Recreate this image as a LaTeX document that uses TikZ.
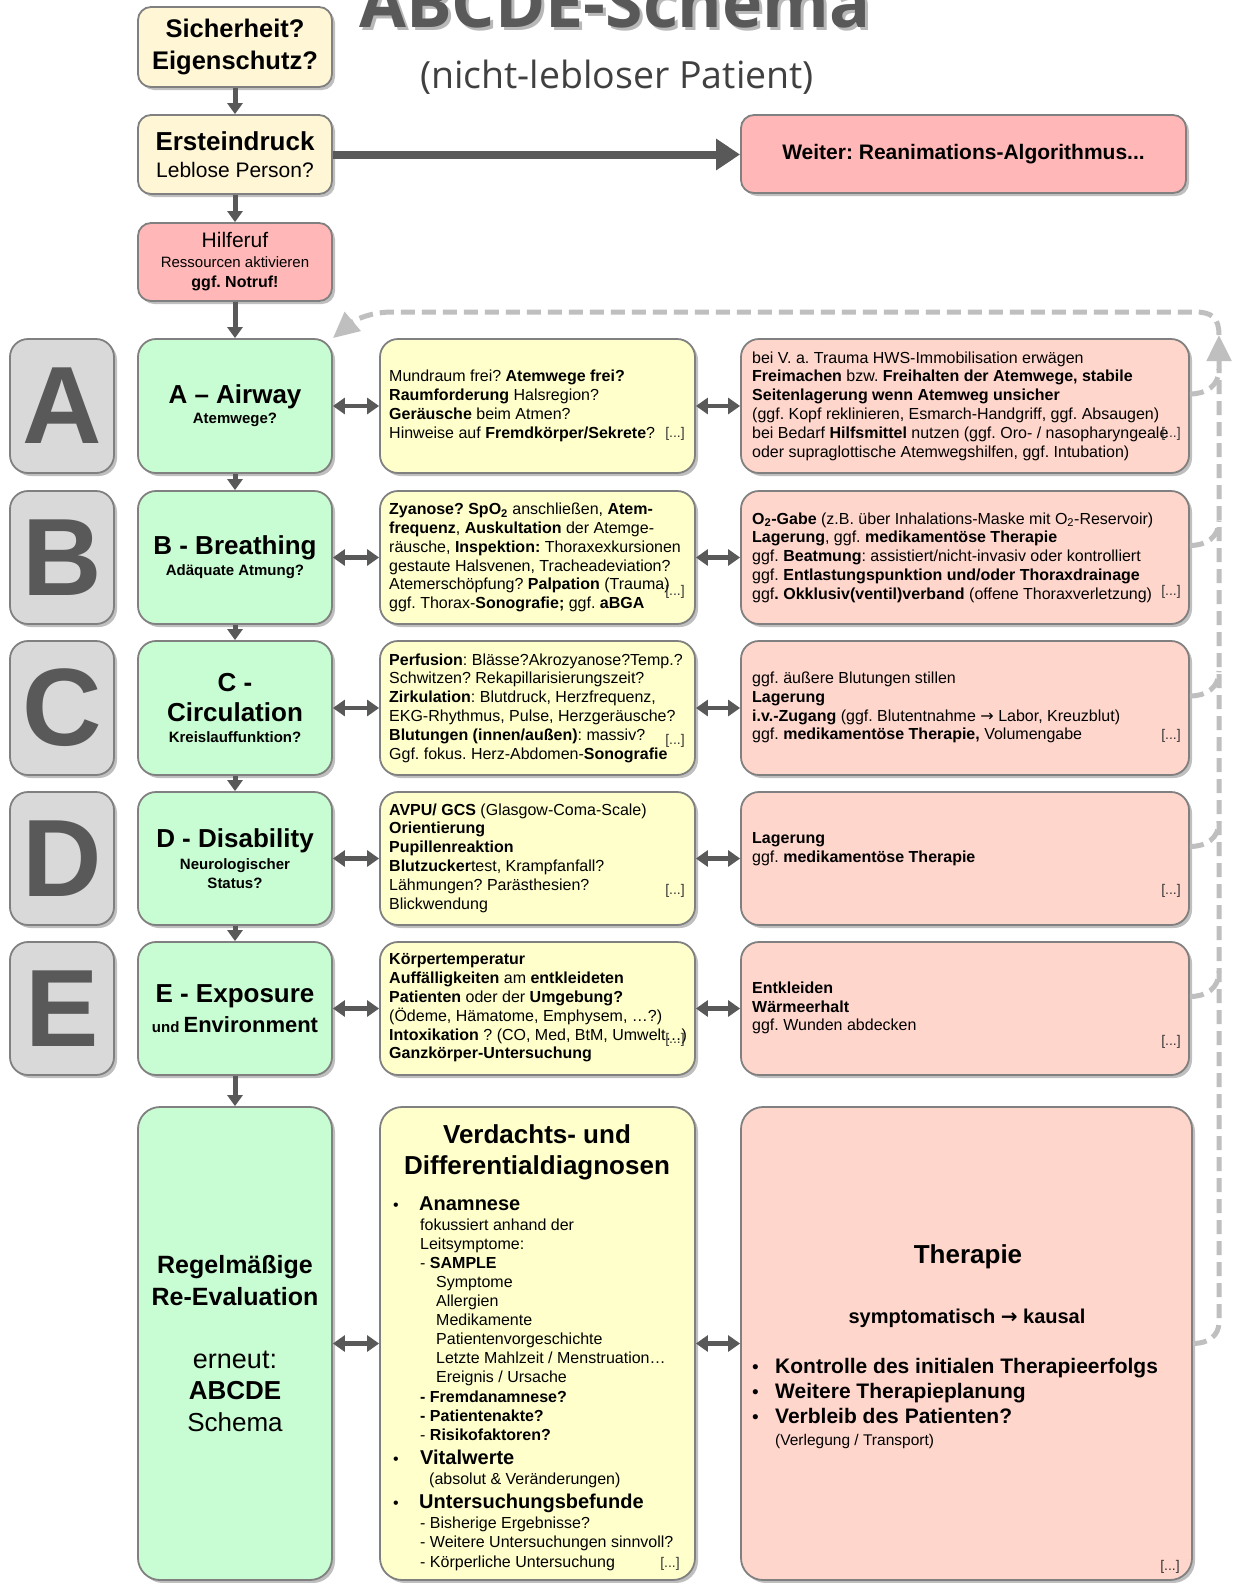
\documentclass[tikz,border=0pt]{standalone}
\usepackage{fontspec}
\setmainfont{Liberation Sans}
\newfontfamily\titlefont{Open Sans}
\newfontfamily\arrowfont{DejaVu Sans}
\usetikzlibrary{arrows.meta,shadows,calc}
\definecolor{mint}{RGB}{200,252,210}
\definecolor{paleyellow}{RGB}{255,255,204}
\definecolor{peach}{RGB}{255,214,204}
\definecolor{rosepink}{RGB}{255,183,183}
\definecolor{cream}{RGB}{255,246,213}
\definecolor{lettergray}{RGB}{217,217,217}
\definecolor{bordergray}{RGB}{128,128,128}
\definecolor{arrowgray}{RGB}{89,89,89}
\definecolor{dashgray}{RGB}{191,191,191}
\definecolor{titlegray}{RGB}{89,89,89}
\newcommand{\rarr}{{\arrowfont →}}
\frenchspacing
\begin{document}
\begin{tikzpicture}[x=1pt,y=-1pt,
  basebox/.style={draw=bordergray,line width=1.8pt,rounded corners=18pt,inner sep=0pt,align=center,
     drop shadow={shadow xshift=3pt,shadow yshift=-3pt,opacity=0.45,fill=black!55}},
  topbox/.style={basebox,rounded corners=13pt,minimum width=194pt},
  letterbox/.style={basebox,fill=lettergray,minimum width=104pt,minimum height=134pt,
     text=titlegray,font=\bfseries\fontsize{110}{110}\selectfont},
  greenbox/.style={basebox,fill=mint,minimum width=194pt,minimum height=134pt,
     font=\bfseries\fontsize{15}{20}\selectfont},
  yellowbox/.style={basebox,fill=paleyellow,minimum width=315pt,minimum height=134pt},
  redbox/.style={basebox,fill=peach,minimum width=448pt,minimum height=134pt},
  rowtext/.style={anchor=west,align=left,inner sep=0pt,font=\fontsize{16}{18.8}\selectfont},
  dotsnote/.style={inner sep=0pt,text=black!80,font=\fontsize{14}{14}\selectfont},
  varrow/.style={draw=arrowgray,line width=5pt,-{Triangle[length=11pt,width=15pt]}},
  darrow/.style={draw=arrowgray,line width=4.5pt,{Triangle[length=12pt,width=16pt]}-{Triangle[length=12pt,width=16pt]}},
  bigarrow/.style={draw=arrowgray,line width=8pt,-{Triangle[length=24pt,width=30pt]}},
  fbline/.style={draw=dashgray,line width=5pt,dash pattern=on 14pt off 7pt},
  fbhead/.style={-{Triangle[length=26pt,width=24pt]}},
  dline/.style={anchor=base west,inner sep=0pt,font=\fontsize{16}{19}\selectfont},
  dhead/.style={anchor=base west,inner sep=0pt,font=\bfseries\fontsize{20}{24}\selectfont},
  dbullet/.style={anchor=base west,inner sep=0pt,font=\fontsize{16}{19}\selectfont},
  ctext/.style={anchor=base,inner sep=0pt}
]
\fill[white] (0,0) rectangle (1235,1583);
\useasboundingbox (0,0) rectangle (1235,1583);

% title
\node[ctext,text=black!28,font=\titlefont\bfseries\fontsize{68}{68}\selectfont] (titleshadow) at (618,30) {ABCDE-Schema};
\node[ctext,text=titlegray,font=\titlefont\bfseries\fontsize{68}{68}\selectfont] (title) at (615,27) {ABCDE-Schema};
\node[ctext,text=black!75,font=\titlefont\fontsize{37.5}{40}\selectfont] (subtitle) at (617,88) {(nicht-lebloser Patient)};

% top column
\node[topbox,fill=cream,minimum height=80pt,font=\bfseries\fontsize{25.5}{32}\selectfont] (sich) at (235,47) {Sicherheit?\\Eigenschutz?};
\node[topbox,fill=cream,minimum height=79pt,font=\fontsize{21}{27}\selectfont] (erst) at (235,154.5) {{\bfseries\fontsize{26}{27}\selectfont Ersteindruck}\\Leblose Person?};
\node[topbox,fill=rosepink,minimum height=78pt,font=\fontsize{15}{20}\selectfont] (hilf) at (235,262) {{\fontsize{21}{20}\selectfont Hilferuf}\\Ressourcen aktivieren\\{\bfseries\fontsize{16}{20}\selectfont ggf. Notruf!}};
\node[topbox,fill=rosepink,minimum width=445pt,minimum height=78pt,font=\bfseries\fontsize{21}{25}\selectfont] (rean) at (963.5,154) {Weiter: Reanimations-Algorithmus...};

% letter boxes
\node[letterbox] (lA) at (62,406) {A};
\node[letterbox,minimum height=133pt] (lB) at (62,557.5) {B};
\node[letterbox] (lC) at (62,708) {C};
\node[letterbox,minimum height=133pt] (lD) at (62,858.5) {D};
\node[letterbox,minimum height=133pt] (lE) at (62,1008.5) {E};

% green boxes
\node[greenbox] (gA) at (235,406) {{\fontsize{26}{20}\selectfont A – Airway}\\Atemwege?};
\node[greenbox,minimum height=133pt] (gB) at (235,557.5) {{\fontsize{26}{20}\selectfont B - Breathing}\\[1pt]Adäquate Atmung?};
\node[greenbox] (gC) at (235,708) {{\fontsize{26}{20}\selectfont C -}\\[10pt]{\fontsize{26}{20}\selectfont Circulation}\\[1pt]Kreislauffunktion?};
\node[greenbox,minimum height=133pt] (gD) at (235,858.5) {{\fontsize{26}{20}\selectfont D - Disability}\\[2pt]Neurologischer\\[-1pt]Status?};
\node[greenbox,minimum height=133pt] (gE) at (235,1008.5) {{\fontsize{26}{20}\selectfont E - Exposure}\\[7.5pt]und {\fontsize{22}{20}\selectfont Environment}};

% yellow boxes
\node[yellowbox] (yA) at (537.5,406) {};
\node[yellowbox,minimum height=133pt] (yB) at (537.5,557.5) {};
\node[yellowbox] (yC) at (537.5,708) {};
\node[yellowbox,minimum height=133pt] (yD) at (537.5,858.5) {};
\node[yellowbox,minimum height=133pt] (yE) at (537.5,1008.5) {};

\node[rowtext] (yAt) at (389,406) {Mundraum frei? \textbf{Atemwege frei?}\\\textbf{Raumforderung} Halsregion?\\\textbf{Geräusche} beim Atmen?\\Hinweise auf \textbf{Fremdkörper/Sekrete}?};
\node[rowtext] (yBt) at (389,557.5) {\textbf{Zyanose? SpO\textsubscript{2}} anschließen, \textbf{Atem-}\\\textbf{frequenz}, \textbf{Auskultation} der Atemge-\\räusche, \textbf{Inspektion:} Thoraxexkursionen\\gestaute Halsvenen, Tracheadeviation?\\Atemerschöpfung? \textbf{Palpation} (Trauma)\\ggf. Thorax-\textbf{Sonografie;} ggf. \textbf{aBGA}};
\node[rowtext] (yCt) at (389,708) {\textbf{Perfusion}: Blässe?Akrozyanose?Temp.?\\Schwitzen? Rekapillarisierungszeit?\\\textbf{Zirkulation}: Blutdruck, Herzfrequenz,\\EKG-Rhythmus, Pulse, Herzgeräusche?\\\textbf{Blutungen (innen/außen)}: massiv?\\Ggf. fokus. Herz-Abdomen-\textbf{Sonografie}};
\node[rowtext] (yDt) at (389,858) {\textbf{AVPU/ GCS} (Glasgow-Coma-Scale)\\\textbf{Orientierung}\\\textbf{Pupillenreaktion}\\\textbf{Blutzucker}test, Krampfanfall?\\Lähmungen? Parästhesien?\\Blickwendung};
\node[rowtext] (yEt) at (389,1008) {\textbf{Körpertemperatur}\\\textbf{Auffälligkeiten} am \textbf{entkleideten}\\\textbf{Patienten} oder der \textbf{Umgebung?}\\(Ödeme, Hämatome, Emphysem, …?)\\\textbf{Intoxikation} ? (CO, Med, BtM, Umwelt…)\\\textbf{Ganzkörper-Untersuchung}};

\node[dotsnote] (yAd) at (675,434) {[...]};
\node[dotsnote] (yBd) at (675,592) {[...]};
\node[dotsnote] (yCd) at (675,741) {[...]};
\node[dotsnote] (yDd) at (675,891) {[...]};
\node[dotsnote] (yEd) at (675,1040) {[...]};

% red boxes
\node[redbox] (rA) at (965,406) {};
\node[redbox,minimum height=133pt] (rB) at (965,557.5) {};
\node[redbox] (rC) at (965,708) {};
\node[redbox,minimum height=133pt] (rD) at (965,858.5) {};
\node[redbox,minimum height=133pt] (rE) at (965,1008.5) {};

\node[rowtext] (rAt) at (752,406) {bei V. a. Trauma HWS-Immobilisation erwägen\\\textbf{Freimachen} bzw. \textbf{Freihalten der Atemwege, stabile}\\\textbf{Seitenlagerung wenn Atemweg unsicher}\\(ggf. Kopf reklinieren, Esmarch-Handgriff, ggf. Absaugen)\\bei Bedarf \textbf{Hilfsmittel} nutzen (ggf. Oro- / nasopharyngeale\\oder supraglottische Atemwegshilfen, ggf. Intubation)};
\node[rowtext] (rBt) at (752,557.5) {\textbf{O\textsubscript{2}-Gabe} (z.B. über Inhalations-Maske mit O\textsubscript{2}-Reservoir)\\\textbf{Lagerung}, ggf. \textbf{medikamentöse Therapie}\\ggf. \textbf{Beatmung}: assistiert/nicht-invasiv oder kontrolliert\\ggf. \textbf{Entlastungspunktion und/oder Thoraxdrainage}\\ggf\textbf{. Okklusiv(ventil)verband} (offene Thoraxverletzung)};
\node[rowtext] (rCt) at (752,707.5) {ggf. äußere Blutungen stillen\\\textbf{Lagerung}\\\textbf{i.v.-Zugang} (ggf. Blutentnahme \rarr{} Labor, Kreuzblut)\\ggf. \textbf{medikamentöse Therapie,} Volumengabe};
\node[rowtext] (rDt) at (752,849) {\textbf{Lagerung}\\ggf. \textbf{medikamentöse Therapie}};
\node[rowtext] (rEt) at (752,1008) {\textbf{Entkleiden}\\\textbf{Wärmeerhalt}\\ggf. Wunden abdecken};

\node[dotsnote] (rAd) at (1171,434) {[...]};
\node[dotsnote] (rBd) at (1171,592) {[...]};
\node[dotsnote] (rCd) at (1171,736) {[...]};
\node[dotsnote] (rDd) at (1171,891) {[...]};
\node[dotsnote] (rEd) at (1171,1042) {[...]};

% bottom row
\node[basebox,fill=mint,rounded corners=22pt,minimum width=194pt,minimum height=473pt] (gBot) at (235,1343.5) {};
\node[basebox,fill=paleyellow,rounded corners=22pt,minimum width=315pt,minimum height=473pt] (yBot) at (537.5,1343.5) {};
\node[basebox,fill=peach,rounded corners=22pt,minimum width=451pt,minimum height=473pt] (rBot) at (966.5,1343.5) {};

\node[ctext,font=\bfseries\fontsize{25}{30}\selectfont] (gb1) at (235,1273) {Regelmäßige};
\node[ctext,font=\bfseries\fontsize{25}{30}\selectfont] (gb2) at (235,1305) {Re-Evaluation};
\node[ctext,font=\fontsize{27}{30}\selectfont] (gb3) at (235,1368) {erneut:};
\node[ctext,font=\bfseries\fontsize{26}{30}\selectfont] (gb4) at (235,1399) {ABCDE};
\node[ctext,font=\fontsize{26}{30}\selectfont] (gb5) at (235,1431) {Schema};

\node[ctext,font=\bfseries\fontsize{26}{30}\selectfont] (dt1) at (537,1143) {Verdachts- und};
\node[ctext,font=\bfseries\fontsize{26}{30}\selectfont] (dt2) at (537,1174) {Differentialdiagnosen};
\node[dbullet] (db1) at (393,1210) {•};
\node[dhead] (dl1) at (419,1210) {Anamnese};
\node[dline] (dl2) at (420,1230) {fokussiert anhand der};
\node[dline] (dl3) at (420,1249) {Leitsymptome:};
\node[dline] (dl4) at (420,1268) {- \textbf{SAMPLE}};
\node[dline] (dl5) at (436,1287) {Symptome};
\node[dline] (dl6) at (436,1306) {Allergien};
\node[dline] (dl7) at (436,1325) {Medikamente};
\node[dline] (dl8) at (436,1344) {Patientenvorgeschichte};
\node[dline] (dl9) at (436,1363) {Letzte Mahlzeit / Menstruation…};
\node[dline] (dl10) at (436,1382) {Ereignis / Ursache};
\node[dline] (dl11) at (420,1402) {\textbf{- Fremdanamnese?}};
\node[dline] (dl12) at (420,1421) {\textbf{- Patientenakte?}};
\node[dline] (dl13) at (420,1440) {- \textbf{Risikofaktoren?}};
\node[dbullet] (db2) at (393,1464) {•};
\node[dhead] (dl14) at (420,1464) {Vitalwerte};
\node[dline] (dl15) at (429,1484) {(absolut \& Veränderungen)};
\node[dbullet] (db3) at (393,1508) {•};
\node[dhead] (dl16) at (419,1508) {Untersuchungsbefunde};
\node[dline] (dl17) at (420,1528) {- Bisherige Ergebnisse?};
\node[dline] (dl18) at (420,1547) {- Weitere Untersuchungen sinnvoll?};
\node[dline] (dl19) at (420,1567) {- Körperliche Untersuchung};
\node[dotsnote,anchor=base] (yBotd) at (670,1567) {[...]};

\node[ctext,font=\bfseries\fontsize{26}{30}\selectfont] (th1) at (968,1263) {Therapie};
\node[ctext,font=\bfseries\fontsize{20}{24}\selectfont] (th2) at (967,1323) {symptomatisch {\arrowfont\bfseries →} kausal};
\node[anchor=base west,inner sep=0pt,font=\fontsize{19}{24}\selectfont] (tb1) at (752,1373) {•};
\node[anchor=base west,inner sep=0pt,font=\bfseries\fontsize{21}{25}\selectfont] (tl1) at (775,1373) {Kontrolle des initialen Therapieerfolgs};
\node[anchor=base west,inner sep=0pt,font=\fontsize{19}{24}\selectfont] (tb2) at (752,1398) {•};
\node[anchor=base west,inner sep=0pt,font=\bfseries\fontsize{21}{25}\selectfont] (tl2) at (775,1398) {Weitere Therapieplanung};
\node[anchor=base west,inner sep=0pt,font=\fontsize{19}{24}\selectfont] (tb3) at (752,1423) {•};
\node[anchor=base west,inner sep=0pt,font=\bfseries\fontsize{21}{25}\selectfont] (tl3) at (775,1423) {Verbleib des Patienten?};
\node[anchor=base west,inner sep=0pt,font=\fontsize{15.5}{19}\selectfont] (tl4) at (775,1445) {(Verlegung / Transport)};
\node[dotsnote,anchor=base] (rBotd) at (1170,1570) {[...]};

% arrows
\draw[varrow] (sich) -- (erst);
\draw[varrow] (erst) -- (hilf);
\draw[varrow] (hilf) -- (gA);
\draw[varrow] (gA) -- (gB);
\draw[varrow] (gB) -- (gC);
\draw[varrow] (gC) -- (gD);
\draw[varrow] (gD) -- (gE);
\draw[varrow] (gE) -- (gBot);
\draw[bigarrow] (erst.east) -- (erst.east -| rean.west);

\foreach \r in {A,B,C,D,E,Bot}{
  \draw[darrow] (g\r) -- (y\r);
  \draw[darrow] (y\r) -- (r\r);
}

% feedback loop
\coordinate (fbtop) at (1219,335);
\coordinate (fbbot) at (1219,1322);
\coordinate (jA) at (1219,369);
\coordinate (jB) at (1219,520.5);
\coordinate (jC) at (1219,671);
\coordinate (jD) at (1219,821.5);
\coordinate (jE) at (1219,971.5);
\draw[fbline,fbhead] (rBot.east) .. controls (1208,1343.5) and (1219,1336) .. (fbbot) -- (fbtop);
\draw[fbline] ([yshift=12pt]rA.east) .. controls (1206,394) and (1219,386) .. (jA);
\draw[fbline] ([yshift=12pt]rB.east) .. controls (1206,545.5) and (1219,537.5) .. (jB);
\draw[fbline] ([yshift=12pt]rC.east) .. controls (1206,696) and (1219,688) .. (jC);
\draw[fbline] ([yshift=12pt]rD.east) .. controls (1206,846.5) and (1219,838.5) .. (jD);
\draw[fbline] ([yshift=12pt]rE.east) .. controls (1206,996.5) and (1219,988.5) .. (jE);
\draw[fbline,fbhead] (fbtop) .. controls (1219,318) and (1212,312) .. (1195,312) -- (392,312) .. controls (368,312) and (352,322) .. (gA.north east);
\end{tikzpicture}
\end{document}
